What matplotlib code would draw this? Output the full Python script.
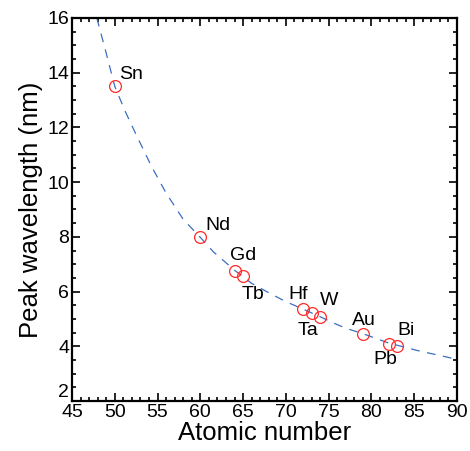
import matplotlib
matplotlib.use("Agg")
import matplotlib.pyplot as plt
from matplotlib.ticker import MultipleLocator

# measured elements
elements = ["Sn", "Nd", "Gd", "Tb", "Hf", "Ta", "W", "Au", "Pb", "Bi"]
atomic_number = [50, 60, 64, 65, 72, 73, 74, 79, 82, 83]
peak_nm = [13.5, 8.0, 6.76, 6.56, 5.38, 5.23, 5.08, 4.45, 4.08, 4.02]

# label positions
label_x = [51.9, 62.1, 65.0, 66.1, 71.4, 72.6, 75.0, 79.1, 81.6, 84.0]
label_y = [13.95, 8.4, 7.3, 5.91, 5.91, 4.56, 5.66, 4.96, 3.5, 4.58]

# fitted curve
fit_x = [47.9, 48.9, 50.0, 51.2, 52.4, 54.3, 56.0, 58.0, 60.0, 61.5, 64.0, 66.0,
         68.1, 70.0, 72.0, 74.0, 75.5, 77.0, 79.0, 82.0, 85.3, 89.6]
fit_y = [16.0, 14.83, 13.5, 12.6, 11.8, 10.57, 9.6, 8.64, 7.98, 7.46, 6.78, 6.3,
         5.94, 5.63, 5.36, 5.08, 4.86, 4.66, 4.46, 4.12, 3.85, 3.55]

plt.rcParams['font.family'] = ['Liberation Sans', 'DejaVu Sans']

fig = plt.figure(figsize=(4.70, 4.51), dpi=100)
ax = fig.add_axes([0.1532, 0.1109, 0.8191, 0.8492])

ax.plot(fit_x, fit_y, color="#3b6fc0", lw=0.9, dashes=(7, 6))
ax.plot(atomic_number, peak_nm, "o", ms=8.5, mfc="none", mec="#ff2a2a", mew=0.9)

for name, tx, ty in zip(elements, label_x, label_y):
    ax.text(tx, ty, name, fontsize=14, ha="center", va="center")

ax.set_xlim(45, 90)
ax.set_ylim(2, 16)
ax.xaxis.set_major_locator(MultipleLocator(5))
ax.xaxis.set_minor_locator(MultipleLocator(1))
ax.yaxis.set_major_locator(MultipleLocator(2))
ax.yaxis.set_minor_locator(MultipleLocator(0.5))
ax.tick_params(which="both", direction="in", top=True, right=True, width=1.2)
ax.tick_params(which="major", length=6, labelsize=14, pad=2)
ax.tick_params(which="minor", length=3)
for s in ax.spines.values():
    s.set_linewidth(1.6)

ax.set_xlabel("Atomic number", fontsize=18.5, labelpad=0)
ax.set_ylabel("Peak wavelength (nm)", fontsize=18.5, labelpad=3)

# lift the bottom "2" so it clears the "45" below it
fig.canvas.draw()
for tick in ax.yaxis.get_major_ticks():
    if abs(tick.get_loc() - 2) < 1e-6:
        tick.label1.set_verticalalignment("bottom")

fig.savefig("out.png", dpi=100)
